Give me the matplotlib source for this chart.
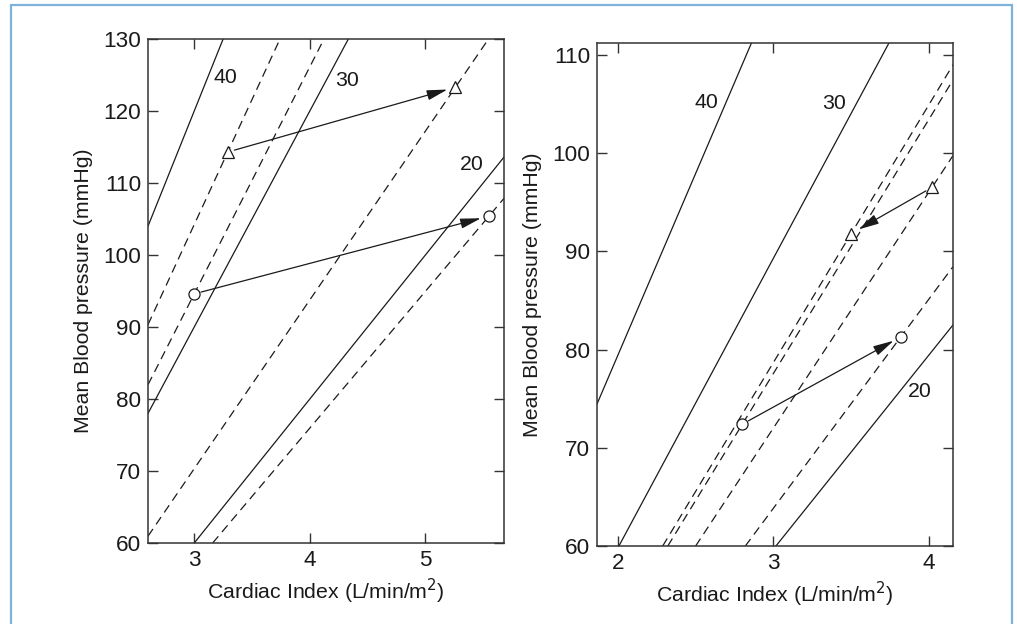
import matplotlib
matplotlib.use("Agg")
import matplotlib.pyplot as plt
from matplotlib.patches import Rectangle

plt.rcParams['font.family'] = ['Liberation Sans', 'DejaVu Sans']

# ---- data ----
# Left panel: solid isolines through the origin (MAP = k * CI)
L_iso_labels = ['40', '30', '20']
L_iso_p1 = [(0, 0), (0, 0), (0, 0)]
L_iso_p2 = [(1, 40), (1, 30), (1, 20)]
L_iso_label_xy = [(3.27, 124.7), (4.32, 124.3), (5.40, 112.6)]
L_tri = [(3.29, 114.3), (5.26, 123.3)]     # start -> end
L_circ = [(3.00, 94.6), (5.55, 105.4)]
L_xlim = (2.6, 5.68)
L_ylim = (60, 130)
L_xticks = [3, 4, 5]
L_yticks = [60, 70, 80, 90, 100, 110, 120, 130]

# Right panel: solid isolines (two points each)
R_iso_labels = ['40', '30', '20']
R_iso_p1 = [(1.865, 74.45), (2.006, 60.0), (3.016, 60.0)]
R_iso_p2 = [(2.855, 111.07), (3.743, 111.2), (4.155, 82.5)]
R_iso_label_xy = [(2.57, 105.1), (3.39, 105.0), (3.94, 75.7)]
R_tri = [(4.02, 96.5), (3.50, 91.8)]       # start -> end
R_circ = [(2.80, 72.4), (3.82, 81.3)]
R_xlim = (1.865, 4.155)
R_ylim = (60, 111.2)
R_xticks = [2, 3, 4]
R_yticks = [60, 70, 80, 90, 100, 110]

FS = 15.3
TFS = 16.2

fig = plt.figure(figsize=(10.17, 6.24), dpi=100)
fig.patch.set_facecolor('white')

# light blue frame
fig.patches.append(Rectangle((11/1017, -0.2), (1012-11)/1017, 1.2 - 5/624,
                             transform=fig.transFigure, fill=False,
                             edgecolor='#7DB3DA', lw=1.6, zorder=0))

axL = fig.add_axes([148/1017, 1-543/624, (504-148)/1017, (543-39)/624])
axR = fig.add_axes([597/1017, 1-546/624, (953-597)/1017, (546-43)/624])

LC = '#1a1a1a'

def draw(ax, labels, p1s, p2s, iso_xy, tri, circ, xlim, ylim, xticks, yticks):
    ax.set_xlim(*xlim)
    ax.set_ylim(*ylim)
    for p1, p2 in zip(p1s, p2s):
        ax.axline(p1, p2, color=LC, lw=0.9)
    for lab, (x, y) in zip(labels, iso_xy):
        ax.text(x, y, lab, fontsize=FS, ha='center', va='center', color=LC)
    for pts in (tri, circ):
        for (x, y) in pts:
            ax.axline((0, 0), slope=y / x, color=LC, lw=0.9, linestyle=(0, (7, 4.5)))
    for pts, m in ((tri, '^'), (circ, 'o')):
        xs = [p[0] for p in pts]
        ys = [p[1] for p in pts]
        ax.plot(xs, ys, linestyle='none', marker=m, markersize=8,
                markerfacecolor='white', markeredgecolor=LC, markeredgewidth=0.9, zorder=5)
        ax.annotate('', xy=pts[1], xytext=pts[0],
                    arrowprops=dict(arrowstyle='-|>,head_length=0.9,head_width=0.22',
                                    color=LC, lw=0.9, shrinkA=5, shrinkB=6,
                                    mutation_scale=14), zorder=4)
    ax.set_xticks(xticks)
    ax.set_yticks(yticks)
    ax.tick_params(direction='in', length=7.5, width=1.0, top=True, right=True,
                   labelsize=TFS, colors='#333333', labelcolor='#1a1a1a', pad=5)
    for s in ax.spines.values():
        s.set_color('#333333')
        s.set_linewidth(1.1)
    ax.set_xlabel('Cardiac Index (L/min/m$^2$)', fontsize=FS, color='#1a1a1a', labelpad=4)
    ax.set_ylabel('Mean Blood pressure (mmHg)', fontsize=FS, color='#1a1a1a', labelpad=7)

draw(axL, L_iso_labels, L_iso_p1, L_iso_p2, L_iso_label_xy, L_tri, L_circ,
     L_xlim, L_ylim, L_xticks, L_yticks)
draw(axR, R_iso_labels, R_iso_p1, R_iso_p2, R_iso_label_xy, R_tri, R_circ,
     R_xlim, R_ylim, R_xticks, R_yticks)

fig.savefig('out.png', dpi=100)
